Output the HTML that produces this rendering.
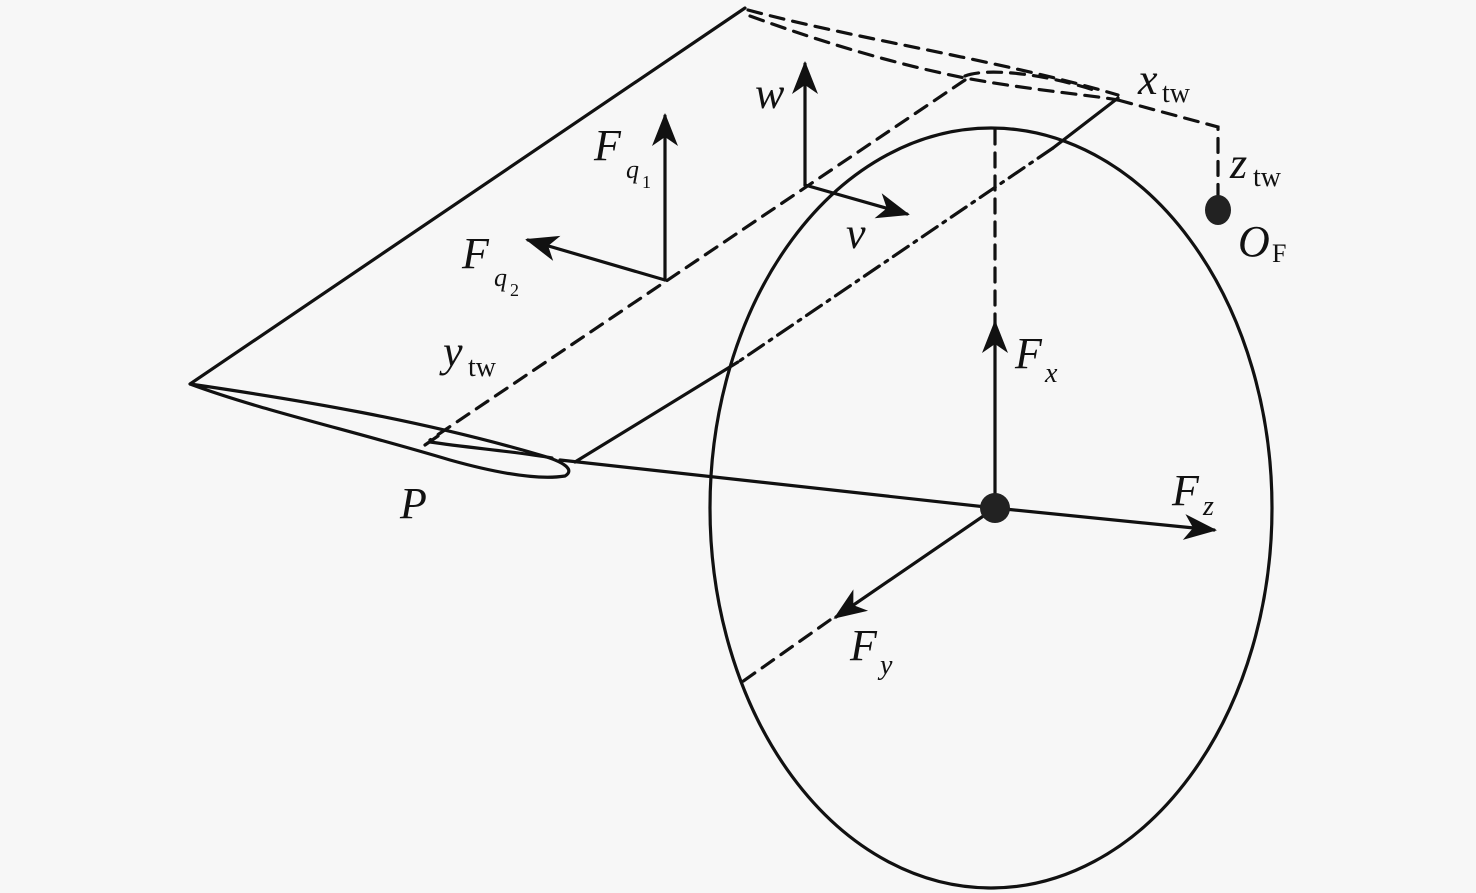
<!DOCTYPE html>
<html><head><meta charset="utf-8"><style>
html,body{margin:0;padding:0;background:#f7f7f7;}
svg{display:block}
text{font-family:"Liberation Serif",serif;font-style:italic;fill:#111}
.s{font-style:normal}
</style></head><body>
<svg width="1476" height="893" viewBox="0 0 1476 893" xmlns="http://www.w3.org/2000/svg">
<defs>
<marker id="a" markerUnits="userSpaceOnUse" markerWidth="60" markerHeight="60" refX="0" refY="0" viewBox="-40 -20 60 40" orient="auto" overflow="visible">
<path d="M3,0 L-30,-13 L-21,0 L-30,13 Z" fill="#111"/>
</marker>
</defs>
<g stroke="#111" stroke-width="3.2" fill="none" stroke-linecap="round">
<line x1="190" y1="384" x2="745" y2="8"/>
<g stroke-dasharray="14 9">
<path d="M748,10 C860,40 1000,60 1118,95"/>
<path d="M750,16 C830,45 900,65 965,78 C1030,90 1090,95 1118,100"/>
<path d="M965,76 C985,68 1040,72 1100,92"/>
<line x1="965" y1="80" x2="430" y2="440"/>
<path d="M1118,100 L1218,127 L1218,195"/>
<line x1="995" y1="130" x2="995" y2="330"/>
<line x1="830" y1="620" x2="742" y2="682"/>
</g>
<line x1="1118" y1="98" x2="1053" y2="148"/>
<line x1="1053" y1="148" x2="738" y2="362" stroke-dasharray="18 7 3 7"/>
<line x1="738" y1="362" x2="575" y2="462"/>
<path d="M190,384 C300,400 420,420 540,455 C565,462 575,470 565,476 C540,480 500,474 450,460 C350,430 260,410 190,384 Z"/>
<path d="M430,442 C470,448 520,452 552,458"/>
<path d="M425,445 L438,436"/>
<line x1="560" y1="460" x2="995" y2="508"/>
<ellipse cx="991" cy="508" rx="281" ry="380"/>
<line x1="995" y1="508" x2="995" y2="323" marker-end="url(#a)"/>
<line x1="995" y1="508" x2="1214" y2="530" marker-end="url(#a)"/>
<line x1="995" y1="508" x2="836" y2="617" marker-end="url(#a)"/>
<line x1="665" y1="280" x2="665" y2="116" marker-end="url(#a)"/>
<line x1="665" y1="280" x2="528" y2="240" marker-end="url(#a)"/>
<line x1="805" y1="185" x2="805" y2="64" marker-end="url(#a)"/>
<line x1="805" y1="185" x2="907" y2="214" marker-end="url(#a)"/>
</g>
<circle cx="995" cy="508" r="15" fill="#222"/>
<ellipse cx="1218" cy="210" rx="13" ry="15" fill="#222"/>
<g font-size="44">
<text x="594" y="160">F</text><text x="626" y="178" font-size="26">q</text><text x="642" y="188" font-size="18" class="s">1</text>
<text x="462" y="268">F</text><text x="494" y="286" font-size="26">q</text><text x="510" y="296" font-size="18" class="s">2</text>
<text x="755" y="108">w</text>
<text x="846" y="248">v</text>
<text x="443" y="366">y</text><text x="468" y="376" font-size="28" class="s">tw</text>
<text x="1138" y="94">x</text><text x="1162" y="102" font-size="28" class="s">tw</text>
<text x="1230" y="178">z</text><text x="1253" y="186" font-size="28" class="s">tw</text>
<text x="1238" y="256">O</text><text x="1272" y="262" font-size="26" class="s">F</text>
<text x="1015" y="368">F</text><text x="1045" y="382" font-size="28">x</text>
<text x="1172" y="505">F</text><text x="1203" y="515" font-size="28">z</text>
<text x="850" y="660">F</text><text x="880" y="674" font-size="28">y</text>
<text x="400" y="518">P</text>
</g>
</svg>
</body></html>
